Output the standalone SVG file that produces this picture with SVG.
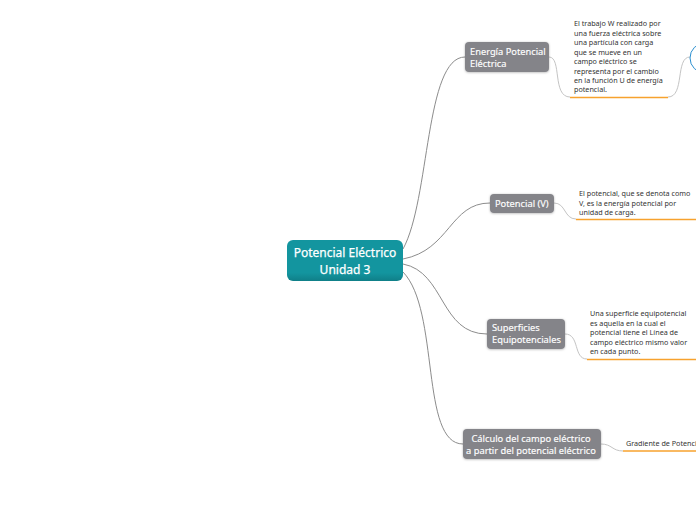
<svg xmlns="http://www.w3.org/2000/svg" width="696" height="520" viewBox="0 0 696 520">
<style>
text{font-family:"Noto Sans","Open Sans","DejaVu Sans",sans-serif}
.main{fill:#848489;filter:url(#sh)}
.mt{font-size:9.3px;fill:#fff;stroke:#fff;stroke-width:0.15}
.rt{font-size:12px;fill:#fff;stroke:#fff;stroke-width:0.25}
.note{font-size:7.2px;fill:#333}
.c1{fill:none;stroke:#8c8c8c;stroke-width:1}
.c2{fill:none;stroke:#c4c4c4;stroke-width:1}
.u{fill:none;stroke:#f7a22e;stroke-width:1.5}
</style>
<defs>
<linearGradient id="g" x1="0" y1="0" x2="0" y2="1"><stop offset="0" stop-color="#13959f"/><stop offset="0.8" stop-color="#13959f"/><stop offset="1" stop-color="#0f7f88"/></linearGradient>
<filter id="sh" x="-10%" y="-20%" width="120%" height="140%"><feDropShadow dx="0" dy="0.5" stdDeviation="0.8" flood-color="#000" flood-opacity="0.3"/></filter>
</defs>
<rect width="696" height="520" fill="#fff"/>
<g id="connectors">
<path class="c1" d="M403 249C430 200 425 57 465 57"/>
<path class="c1" d="M403 259C450 250 450 203 490 203"/>
<path class="c1" d="M403 264C445 272 440 334 487 334"/>
<path class="c1" d="M403 272C440 310 420 444 463 444"/>
<path class="c2" d="M549 57C562 57 552 97 570 97"/>
<path class="c2" d="M668 97C685 97 675 57 690 57"/>
<path class="c2" d="M554 203C566 203 564 219 576 219"/>
<path class="c2" d="M565 334C580 334 573 359 587 359"/>
<path class="c2" d="M601 444C612 444 612 451 623 451"/>
<path class="u" d="M570 97.500H668"/>
<path class="u" d="M576 219.500H696"/>
<path class="u" d="M587 359.500H696"/>
<path class="u" d="M623 451H696"/>
</g>
<g id="root"><rect x="287" y="240" width="116" height="41" rx="6" fill="url(#g)"/>
<text class="rt" x="345" y="257" text-anchor="middle">Potencial Eléctrico</text>
<text class="rt" x="345" y="274" text-anchor="middle">Unidad 3</text></g>
<g id="n1"><rect class="main" x="465" y="42" width="84" height="30" rx="4"/>
<text class="mt" x="470" y="55">Energía Potencial</text><text class="mt" x="470" y="67">Eléctrica</text></g>
<g id="n2"><rect class="main" x="490" y="194" width="64" height="19" rx="4"/>
<text class="mt" x="495" y="207">Potencial (V)</text></g>
<g id="n3"><rect class="main" x="487" y="319" width="78" height="30" rx="4"/>
<text class="mt" x="492" y="331">Superficies</text><text class="mt" x="492" y="343">Equipotenciales</text></g>
<g id="n4"><rect class="main" x="463" y="429" width="138" height="30" rx="4"/>
<text class="mt" x="531" y="442" text-anchor="middle">Cálculo del campo eléctrico</text><text class="mt" x="531" y="454" text-anchor="middle">a partir del potencial eléctrico</text></g>
<g id="t1">
<text class="note" x="574" y="26">El trabajo W realizado por</text>
<text class="note" x="574" y="35.500">una fuerza eléctrica sobre</text>
<text class="note" x="574" y="45">una partícula con carga</text>
<text class="note" x="574" y="54.500">que se mueve en un</text>
<text class="note" x="574" y="64">campo eléctrico se</text>
<text class="note" x="574" y="73.500">representa por el cambio</text>
<text class="note" x="574" y="83">en la función U de energía</text>
<text class="note" x="574" y="92">potencial.</text>
</g>
<g id="t2">
<text class="note" x="579" y="196">El potencial, que se denota como</text>
<text class="note" x="579" y="205.500">V, es la energía potencial por</text>
<text class="note" x="579" y="215">unidad de carga.</text>
</g>
<g id="t3">
<text class="note" x="590" y="316">Una superficie equipotencial</text>
<text class="note" x="590" y="326">es aquella en la cual el</text>
<text class="note" x="590" y="335">potencial tiene el Línea de</text>
<text class="note" x="590" y="345">campo eléctrico mismo valor</text>
<text class="note" x="590" y="354">en cada punto.</text>
</g>
<g id="t4"><text class="note" x="626" y="446">Gradiente de Potencial</text></g>
<g id="n5"><circle cx="705" cy="58" r="15" fill="#fff" stroke="#2a8fd0" stroke-width="1"/></g>
</svg>
